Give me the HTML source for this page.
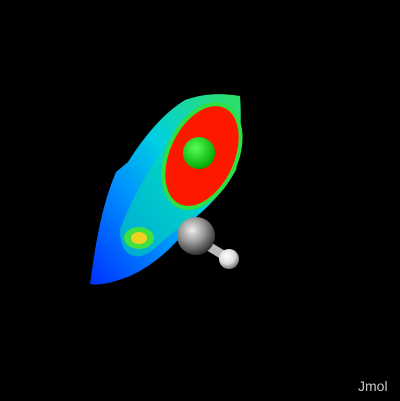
<!DOCTYPE html>
<html><head><meta charset="utf-8"><style>
html,body{margin:0;padding:0;background:#000;width:400px;height:401px;overflow:hidden}
svg{display:block}
.lbl{font-family:"Liberation Sans",sans-serif;font-size:14px;fill:#c8c8c8}
</style></head><body>
<svg width="400" height="401" viewBox="0 0 400 401">
<defs>
<radialGradient id="gC" cx="40%" cy="35%" r="65%"><stop offset="0" stop-color="#eee"/><stop offset="0.5" stop-color="#999"/><stop offset="1" stop-color="#333"/></radialGradient>
<radialGradient id="gH" cx="40%" cy="35%" r="65%"><stop offset="0" stop-color="#fff"/><stop offset="0.6" stop-color="#ddd"/><stop offset="1" stop-color="#777"/></radialGradient>
<radialGradient id="gG" cx="40%" cy="35%" r="65%"><stop offset="0" stop-color="#5f5"/><stop offset="1" stop-color="#0a0"/></radialGradient>
<linearGradient id="gSheet" x1="0" y1="1" x2="1" y2="0"><stop offset="0" stop-color="#0030ff"/><stop offset="0.35" stop-color="#0090ff"/><stop offset="0.6" stop-color="#00d0e0"/><stop offset="1" stop-color="#30e060"/></linearGradient>
</defs>
<rect width="400" height="401" fill="#000"/>
<path d="M116,172 L128,162 C145,135 165,112 185,100 C200,95 215,92 240,96 C242,120 240,150 236,170 C225,190 210,205 195,218 C180,240 160,262 130,276 C115,282 100,286 90,284 C95,250 100,210 116,172 Z" fill="url(#gSheet)"/>
<path d="M120,230 C130,200 160,150 180,125 C200,105 225,100 235,110 C238,140 232,175 215,195 C195,215 170,235 150,252 C135,262 120,255 120,230 Z" fill="#00d8b0" opacity="0.6"/>
<ellipse cx="202" cy="156" rx="36" ry="57" transform="rotate(25 202 156)" fill="#30e040"/>
<ellipse cx="202" cy="156" rx="32" ry="53" transform="rotate(25 202 156)" fill="#ff1800"/>
<circle cx="199" cy="153" r="16" fill="url(#gG)"/>
<ellipse cx="139" cy="238" rx="15" ry="11" fill="#40e040"/>
<ellipse cx="139" cy="238" rx="8" ry="6" fill="#f0d020"/>
<g>
<line x1="195" y1="238" x2="228" y2="258" stroke="#bbb" stroke-width="9"/>
</g>
<circle cx="196" cy="236" r="19" fill="url(#gC)"/>
<circle cx="229" cy="259" r="10" fill="url(#gH)"/>
<text x="358" y="391" class="lbl">Jmol</text>
</svg>
</body></html>
